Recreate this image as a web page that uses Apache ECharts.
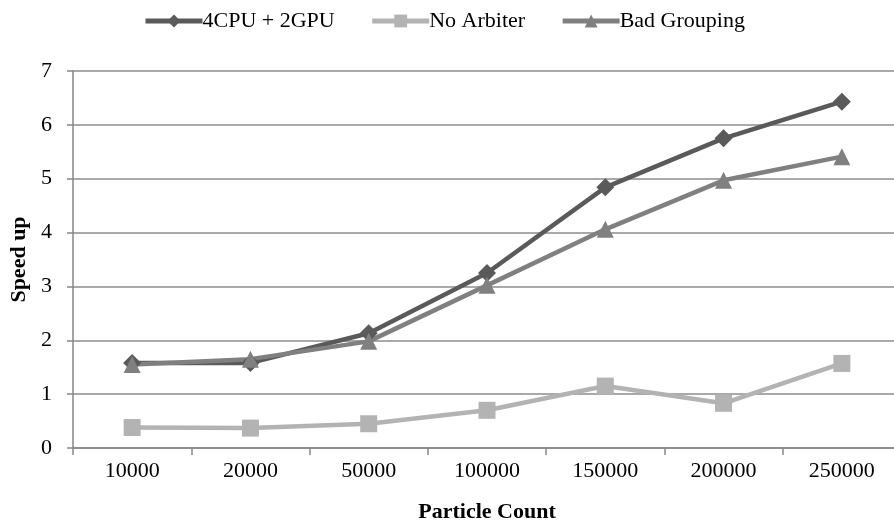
<!DOCTYPE html>
<html>
<head>
<meta charset="utf-8">
<script src="https://cdn.jsdelivr.net/npm/echarts@6/dist/echarts.min.js"></script>
<style>
  html, body { margin: 0; padding: 0; background: #fff; }
  #chart { width: 894px; height: 527px; }
</style>
</head>
<body>
<div id="chart"></div>
<script>
// Particle counts on the category axis
const particleCounts = ['10000', '20000', '50000', '100000', '150000', '200000', '250000'];

// Speed-up per configuration
const cpuGpu = [1.58, 1.58, 2.13, 3.25, 4.84, 5.75, 6.43];
const noArbiter = [0.38, 0.37, 0.45, 0.70, 1.15, 0.83, 1.57];
const badGrouping = [1.55, 1.65, 1.98, 3.02, 4.06, 4.97, 5.41];

const font = 'Liberation Serif, Times New Roman, serif';

const chart = echarts.init(document.getElementById('chart'));

function lineSeries(name, data, color, symbol, size) {
  return {
    name: name,
    type: 'line',
    data: data,
    symbol: symbol,
    symbolSize: size,
    showAllSymbol: true,
    lineStyle: { color: color, width: 4.5 },
    itemStyle: { color: color },
    emphasis: { disabled: true },
    animation: false
  };
}

chart.setOption({
  animation: false,
  legend: {
    top: 5,
    left: 138,
    itemWidth: 57,
    itemHeight: 16,
    itemGap: 35,
    lineStyle: { width: 5 },
    textStyle: { fontFamily: font, fontSize: 22, color: '#000', padding: [0, 0, 0, -5] },
    data: ['4CPU + 2GPU', 'No Arbiter', 'Bad Grouping']
  },
  grid: { left: 73, top: 71, width: 828, height: 377, containLabel: false, outerBoundsMode: 'none' },
  xAxis: {
    type: 'category',
    data: particleCounts,
    boundaryGap: true,
    name: 'Particle Count',
    nameLocation: 'middle',
    nameGap: 53,
    nameTextStyle: { fontFamily: font, fontSize: 22, fontWeight: 'bold', color: '#000' },
    axisLine: { lineStyle: { color: '#868686', width: 1.5 } },
    axisTick: { show: true, length: 7, lineStyle: { color: '#868686', width: 1.5 } },
    axisLabel: { fontFamily: font, fontSize: 22, color: '#000', margin: 12 }
  },
  yAxis: {
    type: 'value',
    min: 0,
    max: 7,
    interval: 1,
    name: 'Speed up',
    nameLocation: 'middle',
    nameGap: 42,
    nameTextStyle: { fontFamily: font, fontSize: 22, fontWeight: 'bold', color: '#000' },
    axisLine: { show: true, lineStyle: { color: '#868686', width: 1.5 } },
    axisTick: { show: true, length: 6, lineStyle: { color: '#868686', width: 1.5 } },
    axisLabel: { fontFamily: font, fontSize: 22, color: '#000', margin: 21 },
    splitLine: { show: true, lineStyle: { color: '#8c8c8c', width: 1.5 } }
  },
  series: [
    lineSeries('4CPU + 2GPU', cpuGpu, '#5a5a5a', 'diamond', 18),
    lineSeries('No Arbiter', noArbiter, '#b3b3b3', 'rect', 17),
    lineSeries('Bad Grouping', badGrouping, '#808080', 'triangle', 17)
  ]
});
</script>
</body>
</html>
